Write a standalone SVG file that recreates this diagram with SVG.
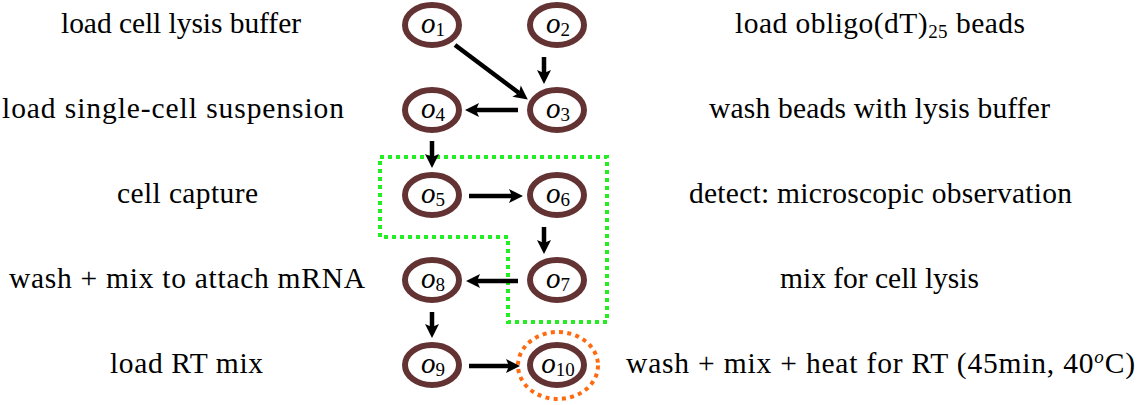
<svg xmlns="http://www.w3.org/2000/svg" width="1144" height="405" viewBox="0 0 1144 405">
  <style>
    .ring { fill: #fff; stroke: #633232; stroke-width: 6; }
    .edge { stroke: #000; stroke-width: 4.5; fill: none; }
    .green { fill: none; stroke: #22ee22; stroke-width: 4; stroke-dasharray: 4 4; }
    .orange { fill: none; stroke: #ff6a10; stroke-width: 4; stroke-dasharray: 4 4.3; }
  </style>
  <rect width="1144" height="405" fill="#fff"/>

  <!-- grouping boxes -->
  <path class="green" d="M380,157 L607,157 L607,322 L508,322 L508,237 L380,237 Z"/>

  <!-- steps (nodes) -->
  <g font-family="Liberation Serif" font-size="29" text-anchor="middle">
    <g id="o1"><ellipse class="ring" cx="432" cy="25" rx="27" ry="20"/><text x="433" y="33"><tspan font-style="italic">o</tspan><tspan font-size="19" dy="3">1</tspan></text></g>
    <g id="o2"><ellipse class="ring" cx="557" cy="25" rx="27" ry="20"/><text x="558" y="33"><tspan font-style="italic">o</tspan><tspan font-size="19" dy="3">2</tspan></text></g>
    <g id="o3"><ellipse class="ring" cx="557" cy="110" rx="27" ry="20"/><text x="558" y="118"><tspan font-style="italic">o</tspan><tspan font-size="19" dy="3">3</tspan></text></g>
    <g id="o4"><ellipse class="ring" cx="432" cy="110" rx="27" ry="20"/><text x="433" y="118"><tspan font-style="italic">o</tspan><tspan font-size="19" dy="3">4</tspan></text></g>
    <g id="o5"><ellipse class="ring" cx="432" cy="195" rx="27" ry="20"/><text x="433" y="203"><tspan font-style="italic">o</tspan><tspan font-size="19" dy="3">5</tspan></text></g>
    <g id="o6"><ellipse class="ring" cx="557" cy="195" rx="27" ry="20"/><text x="558" y="203"><tspan font-style="italic">o</tspan><tspan font-size="19" dy="3">6</tspan></text></g>
    <g id="o7"><ellipse class="ring" cx="557" cy="280" rx="27" ry="20"/><text x="558" y="288"><tspan font-style="italic">o</tspan><tspan font-size="19" dy="3">7</tspan></text></g>
    <g id="o8"><ellipse class="ring" cx="432" cy="280" rx="27" ry="20"/><text x="433" y="288"><tspan font-style="italic">o</tspan><tspan font-size="19" dy="3">8</tspan></text></g>
    <g id="o9"><ellipse class="ring" cx="432" cy="365" rx="27" ry="20"/><text x="433" y="373"><tspan font-style="italic">o</tspan><tspan font-size="19" dy="3">9</tspan></text></g>
    <g id="o10"><ellipse class="orange" cx="558" cy="365.5" rx="40" ry="33.5"/><ellipse class="ring" cx="557" cy="365" rx="27" ry="20"/><text x="558" y="373"><tspan font-style="italic">o</tspan><tspan font-size="19" dy="3">10</tspan></text></g>
  </g>

  <!-- connectors: shaft plus filled head -->
  <g id="edges">
    <line class="edge" x1="455" y1="45" x2="519" y2="93"/>
    <polygon points="527.8,99.6 512.4,96.8 519,93 520.8,85.6"/>
    <line class="edge" x1="544" y1="57" x2="544" y2="73"/>
    <polygon points="544,84 537,70 544,73 551,70"/>
    <line class="edge" x1="518" y1="110" x2="476" y2="110"/>
    <polygon points="465,110 479,103 476,110 479,117"/>
    <line class="edge" x1="432" y1="141" x2="432" y2="157"/>
    <polygon points="432,168 425,154 432,157 439,154"/>
    <line class="edge" x1="469" y1="196" x2="512" y2="196"/>
    <polygon points="523,196 509,189 512,196 509,203"/>
    <line class="edge" x1="544" y1="227" x2="544" y2="243"/>
    <polygon points="544,254 537,240 544,243 551,240"/>
    <line class="edge" x1="518" y1="281" x2="477" y2="281"/>
    <polygon points="466,281 480,274 477,281 480,288"/>
    <line class="edge" x1="432" y1="312" x2="432" y2="327"/>
    <polygon points="432,338 425,324 432,327 439,324"/>
    <line class="edge" x1="469" y1="366" x2="509" y2="366"/>
    <polygon points="520,366 506,359 509,366 506,373"/>
  </g>

  <!-- step descriptions, left -->
  <g id="left-labels" font-family="Liberation Serif" font-size="29.5" text-anchor="middle">
    <text x="181" y="33" textLength="240">load cell lysis buffer</text>
    <text x="173" y="118" textLength="342">load single-cell suspension</text>
    <text x="187.5" y="203" textLength="141">cell capture</text>
    <text x="187" y="288" textLength="356">wash + mix to attach mRNA</text>
    <text x="186.5" y="373" textLength="153">load RT mix</text>
  </g>

  <!-- step descriptions, right -->
  <g id="right-labels" font-family="Liberation Serif" font-size="29.5" text-anchor="middle">
    <text x="880" y="33" textLength="290">load obligo(dT)<tspan font-size="19" dy="5">25</tspan><tspan dy="-5"> beads</tspan></text>
    <text x="879.5" y="118" textLength="341">wash beads with lysis buffer</text>
    <text x="880.5" y="203" textLength="383">detect: microscopic observation</text>
    <text x="879.5" y="288" textLength="199">mix for cell lysis</text>
    <text x="880.5" y="373" textLength="509">wash + mix + heat for RT (45min, 40<tspan font-size="19" font-style="italic" dy="-10">o</tspan><tspan dy="10">C)</tspan></text>
  </g>
</svg>
